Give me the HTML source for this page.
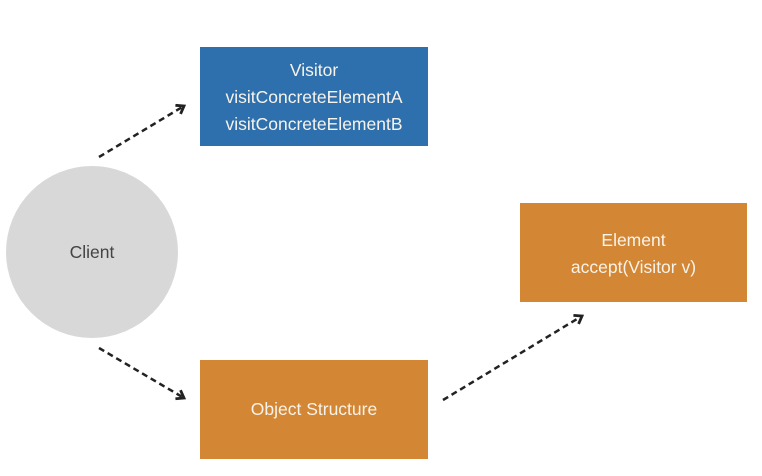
<!DOCTYPE html>
<html><head><style>
body{margin:0;width:762px;height:476px;background:#fff;overflow:hidden;position:relative;font-family:"Liberation Sans",sans-serif}
.b{position:absolute;color:#f8f3ea;font-size:17.5px;text-align:center;display:flex;flex-direction:column;justify-content:center;line-height:27px}
</style></head><body>
<div class="b" style="left:200px;top:47px;width:228px;height:99px;background:#2e70ad;padding-top:2px;box-sizing:border-box">Visitor<br>visitConcreteElementA<br>visitConcreteElementB</div>
<div class="b" style="left:200px;top:360px;width:228px;height:99px;background:#d38634">Object Structure</div>
<div class="b" style="left:520px;top:203px;width:227px;height:99px;background:#d38634;padding-top:3px;box-sizing:border-box">Element<br>accept(Visitor v)</div>
<div class="b" style="left:6px;top:166px;width:172px;height:172px;border-radius:50%;background:#d8d8d8;color:#444">Client</div>
<svg width="762" height="476" style="position:absolute;left:0;top:0">
<defs><marker id="a" markerWidth="12" markerHeight="14" refX="8" refY="6" orient="auto" markerUnits="userSpaceOnUse"><path d="M1,1 L8,6 L1,11" fill="none" stroke="#222" stroke-width="2.8"/></marker></defs>
<g stroke="#222" stroke-width="2.5" stroke-dasharray="6,4" fill="none" marker-end="url(#a)">
<line x1="99" y1="157" x2="184" y2="106"/>
<line x1="99" y1="348" x2="184" y2="398"/>
<line x1="443" y1="400" x2="582" y2="316"/>
</g></svg>
</body></html>
